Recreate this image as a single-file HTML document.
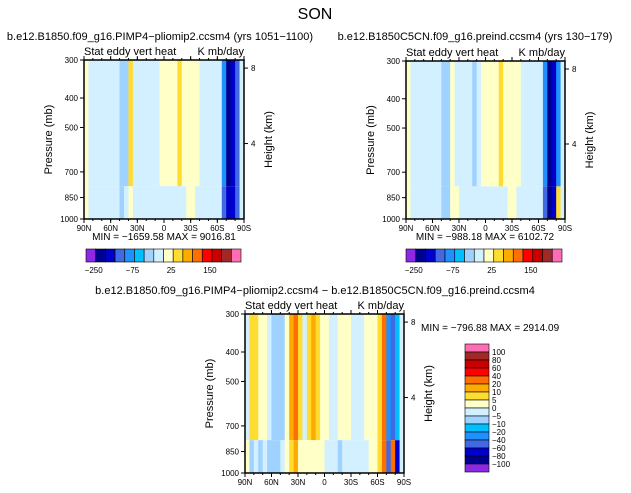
<!DOCTYPE html>
<html><head><meta charset="utf-8"><style>
body{margin:0;background:#fff;width:631px;height:493px;overflow:hidden}
svg{display:block;font-family:"Liberation Sans",sans-serif}
</style></head><body>
<svg id="s" width="631" height="493" viewBox="0 0 631 493">
<text x="315" y="19" font-size="16" text-anchor="middle">SON</text>
<g id="p1"></g>
<g id="p2"></g>
<g id="p3"></g>
</svg>
<script>
// ---- data ----
const latLabels = ["90N","60N","30N","0","30S","60S","90S"];
const presTicks = [300,400,500,700,850,1000];
const kmTicks = [8,4];
const topLevels = [-250,-200,-150,-100,-75,-50,-25,0,25,50,75,100,150,200,250];
const topLevelLabels = ["-250","-75","25","150"];
const diffLevels = [-100,-80,-60,-40,-20,-10,-5,0,5,10,20,40,60,80,100];
const colors = ["#8c28e6","#00008c","#0000cd","#4169e1","#1e90ff","#00bfff","#a0d2ff","#d2f0ff","#ffffc8","#ffdc32","#ffaa00","#ff6e00","#ff0000","#c80000","#a02828","#ff6eb4"];
// 36 latitude bands of 5 deg, 90N -> 90S ; upper layer (300-750mb), lower layer (750-1000mb)
const p1Upper = [10,-10,-10,-10,-10,-10,-10,-10,-30,-30,30,-10,-10,-10,-10,-10,-10,10,10,10,10,30,10,10,10,10,-10,-10,-10,-10,-10,-90,-220,-170,-120,-10];
const p1Lower = [10,-10,-10,-10,-10,-10,-20,-20,-30,-10,10,-10,-10,-10,-10,-10,-10,-10,-10,-10,-10,-10,-10,10,10,-10,-10,-10,-10,-10,-10,-120,-180,-200,-150,-10];
const p2Upper = [10,-10,-10,-10,-10,-10,-10,-10,-30,-40,10,-10,-10,-10,-10,-30,-10,10,10,10,10,30,10,10,10,10,-10,-10,-10,-10,-10,-90,-220,-170,-80,-10];
const p2Lower = [10,-10,-10,-10,-10,-20,-20,-10,-30,-30,10,10,-10,-10,-10,-10,-10,-10,-10,-10,-10,-10,-10,10,10,-10,-10,-10,-10,-10,-10,-150,-230,-200,30,-10];
const p3Upper = [-3,8,8,3,3,-3,-7,-7,-7,3,15,30,8,-3,8,15,8,3,3,-3,-3,3,3,3,-3,-3,-3,3,3,3,8,30,-40,-60,-20,-3];
const p3Lower = [3,-7,-3,-7,-3,-7,-7,-7,-3,3,8,15,3,3,3,3,3,3,-3,-3,-3,-7,-3,-3,-3,-3,-3,-3,3,3,8,30,-60,20,-80,-3];
const diffBarLabels = ["100","80","60","40","20","10","5","0","-5","-10","-20","-40","-60","-80","-100"];

const NS="http://www.w3.org/2000/svg";
function el(tag, attrs, parent){const e=document.createElementNS(NS,tag);for(const k in attrs)e.setAttribute(k,attrs[k]);parent.appendChild(e);return e;}
function colorFor(v, levels){let i=0;while(i<levels.length && v>=levels[i])i++;return colors[i];}

function drawPanel(g, x0,y0,w,h, upper, lower, levels, title, minmax, mmPos){
  const yP = p => y0 + h*Math.log(p/300)/Math.log(1000/300);
  const xB = i => x0 + w*i/upper.length;
  const yMid = yP(780);
  upper.forEach((v,i)=>{
    const r=el('rect',{x:xB(i),y:y0,width:w/upper.length+0.4,height:yMid-y0,fill:colorFor(v,levels)},g);
    
    
  });
  lower.forEach((v,i)=>{
    const r=el('rect',{x:xB(i),y:yMid,width:w/lower.length+0.4,height:y0+h-yMid,fill:colorFor(v,levels)},g);
    
    
  });
  const f=el('rect',{x:x0,y:y0,width:w,height:h,fill:'none',stroke:'#000','stroke-width':1.5},g);
  
  
  latLabels.forEach((l,i)=>{
    const x=x0+w*i/6;
    el('line',{x1:x,x2:x,y1:y0+h,y2:y0+h+4,stroke:'#000'},g);
    el('line',{x1:x,x2:x,y1:y0,y2:y0-4,stroke:'#000'},g);
    const t=el('text',{x:x,y:y0+h+12,'font-size':8,'text-anchor':'middle'},g);t.textContent=l;
    
    
  });
  for(let i=0;i<=18;i++){const x=x0+w*i/18;el('line',{x1:x,x2:x,y1:y0+h,y2:y0+h+2,stroke:'#000'},g);el('line',{x1:x,x2:x,y1:y0,y2:y0-2,stroke:'#000'},g);}
  presTicks.forEach(p=>{
    const y=yP(p);
    el('line',{x1:x0,x2:x0-4,y1:y,y2:y,stroke:'#000'},g);
    const t=el('text',{x:x0-6,y:y+3,'font-size':8,'text-anchor':'end'},g);t.textContent=p;
    
    
  });
  kmTicks.forEach(k=>{
    const y=yP(1000*Math.exp(-k/7));
    el('line',{x1:x0+w,x2:x0+w+4,y1:y,y2:y,stroke:'#000'},g);
    const t=el('text',{x:x0+w+7,y:y+3,'font-size':8},g);t.textContent=k;
    
    
  });
  let t=el('text',{transform:`translate(${x0-32},${y0+h/2}) rotate(-90)`,'font-size':11,'text-anchor':'middle'},g);t.textContent='Pressure (mb)';
  
  
  t=el('text',{transform:`translate(${x0+w+28},${y0+h/2}) rotate(-90)`,'font-size':11,'text-anchor':'middle'},g);t.textContent='Height (km)';
  
  
  t=el('text',{x:x0,y:y0-5,'font-size':11},g);t.textContent='Stat eddy vert heat';
  
  
  t=el('text',{x:x0+w,y:y0-5,'font-size':11,'text-anchor':'end'},g);t.textContent='K mb/day';
  
  
  t=el('text',{x:title[1],y:title[2],'font-size':11,'text-anchor':'middle'},g);t.textContent=title[0];
  
  
  t=el('text',{x:mmPos[0],y:mmPos[1],'font-size':10,'text-anchor':mmPos[2]},g);t.textContent=minmax;
  
  
}
function hBar(g,x0,y0,w,h){
  const bw=w/16;
  colors.forEach((c,i)=>{
    const r=el('rect',{x:x0+i*bw,y:y0,width:bw,height:h,fill:c,stroke:'#000','stroke-width':0.6},g);
    
    
  });
  topLevelLabels.forEach((l,i)=>{
    const t=el('text',{x:x0+(1+4*i)*bw-2,y:y0+h+11,'font-size':8,'text-anchor':'middle'},g);t.textContent=l.replace('-','\u2212');
    
    
  });
}
const g1=document.getElementById('p1'),g2=document.getElementById('p2'),g3=document.getElementById('p3');
drawPanel(g1,84,60,160,159,p1Upper,p1Lower,topLevels,["b.e12.B1850.f09_g16.PIMP4\u2212pliomip2.ccsm4 (yrs 1051\u22121100)",160,40],"MIN = \u22121659.58   MAX = 9016.81",[164,240,'middle']);
hBar(g1,86,249,155,13);
drawPanel(g2,406,61,159,158,p2Upper,p2Lower,topLevels,["b.e12.B1850C5CN.f09_g16.preind.ccsm4 (yrs 130\u2212179)",475,40],"MIN = \u2212988.18   MAX = 6102.72",[485,240,'middle']);
hBar(g2,406,249,156,13);
drawPanel(g3,245,314,159,159,p3Upper,p3Lower,diffLevels,["b.e12.B1850.f09_g16.PIMP4\u2212pliomip2.ccsm4 \u2212 b.e12.B1850C5CN.f09_g16.preind.ccsm4",315,294],"MIN = \u2212796.88   MAX = 2914.09",[421,331,'start']);
// vertical colorbar
const vb=8;
colors.slice().reverse().forEach((c,i)=>{
  const r=el('rect',{x:465,y:344+i*vb,width:24,height:vb,fill:c,stroke:'#000','stroke-width':0.6},g3);
  
  
});
diffBarLabels.forEach((l,i)=>{
  const t=el('text',{x:492,y:355+i*vb,'font-size':8},g3);t.textContent=l.replace('-','\u2212');
  
  
});
</script>
</body></html>
